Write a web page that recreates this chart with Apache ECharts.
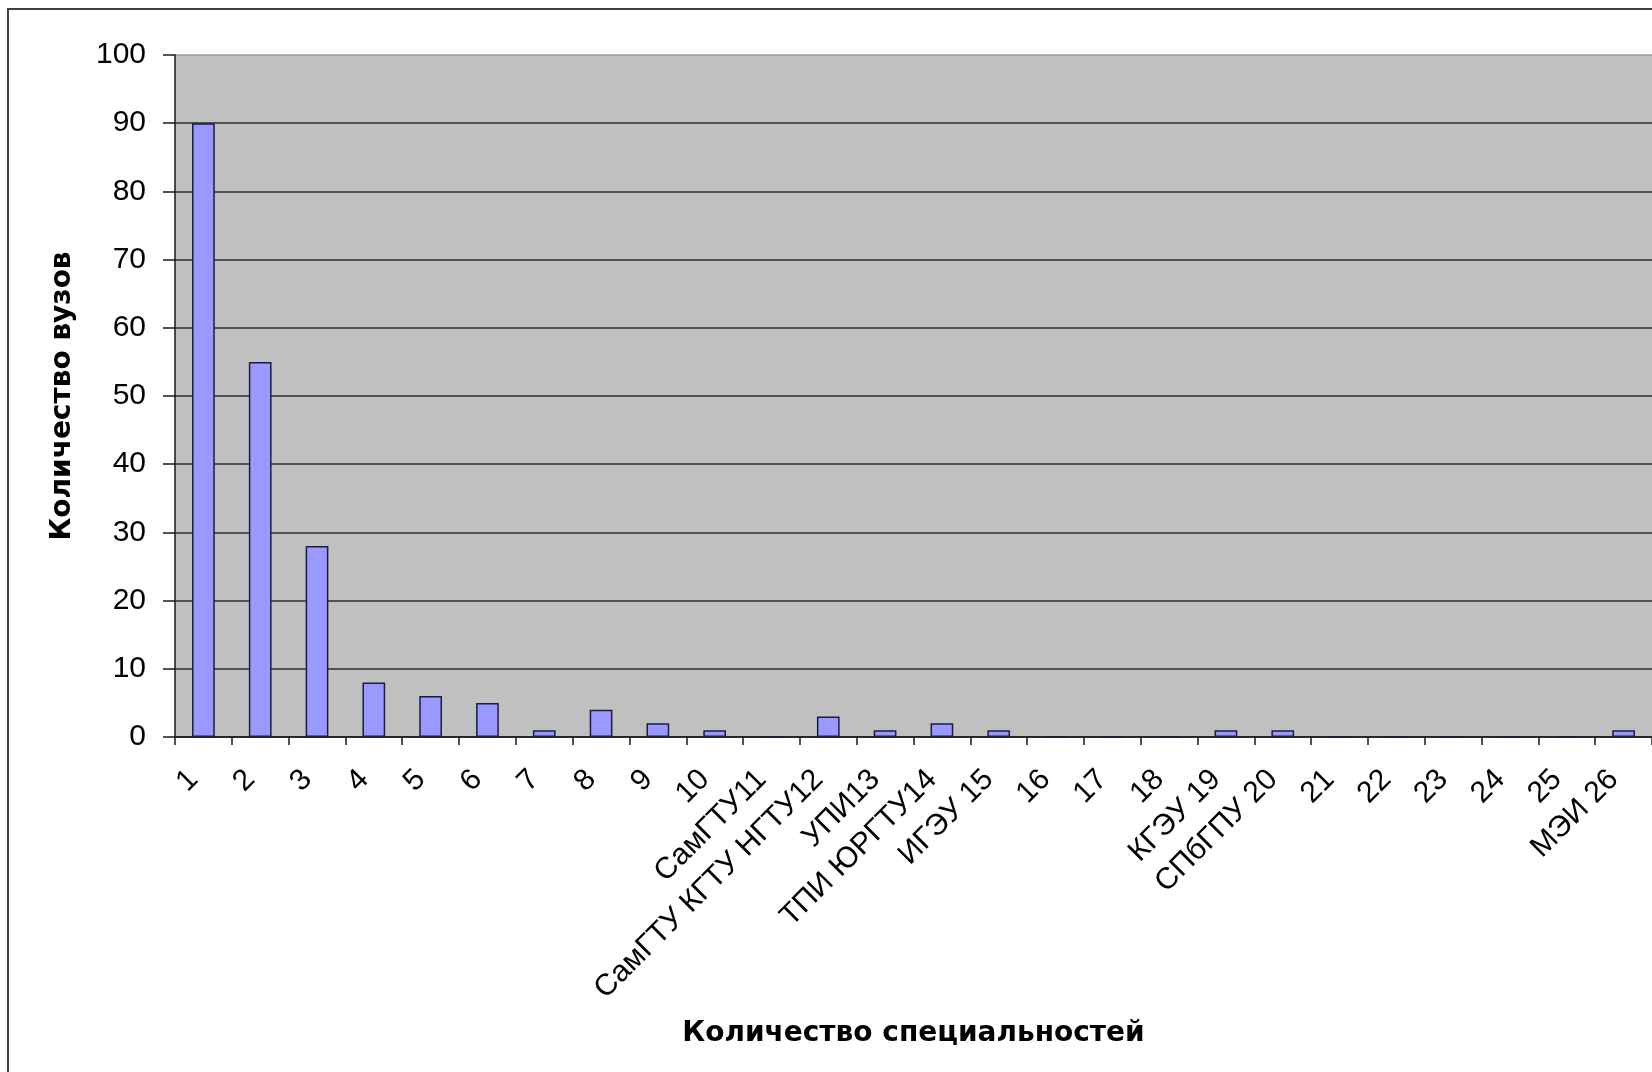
<!DOCTYPE html>
<html>
<head>
<meta charset="utf-8">
<script src="https://cdn.jsdelivr.net/npm/echarts@6/dist/echarts.min.js"></script>
<style>
  html, body { margin: 0; padding: 0; background: #ffffff; }
  #chart { width: 1652px; height: 1072px; }
</style>
</head>
<body>
<div id="chart"></div>
<script>
// Number of specialities (categories) and the universities offering them
const categories = [
  '1', '2', '3', '4', '5', '6', '7', '8', '9', '10',
  'СамГТУ11', 'СамГТУ КГТУ НГТУ12', 'УПИ13', 'ТПИ ЮРГТУ14', 'ИГЭУ 15',
  '16', '17', '18', 'КГЭУ 19', 'СПбГПУ 20',
  '21', '22', '23', '24', '25', 'МЭИ 26'
];
// Number of universities for each category
const universityCounts = [
  90, 55, 28, 8, 6, 5, 1, 4, 2, 1,
  0, 3, 1, 2, 1,
  0, 0, 0, 1, 1,
  0, 0, 0, 0, 0, 1
];
const yTicks = { min: 0, max: 100, interval: 10 };
const xTitle = 'Количество специальностей';
const yTitle = 'Количество вузов';

const FONT = '"Liberation Sans", Arial, sans-serif';
const TITLE_FONT = '"DejaVu Sans", "Liberation Sans", Arial, sans-serif';
const chart = echarts.init(document.getElementById('chart'), null, { renderer: 'canvas' });

chart.setOption({
  animation: false,
  backgroundColor: '#ffffff',
  graphic: [{
    type: 'rect',
    z: -10,
    silent: true,
    shape: { x: 8, y: 9, width: 1700, height: 1100 },
    style: { fill: 'none', stroke: '#404040', lineWidth: 2 }
  }],
  grid: {
    left: 175, top: 55, right: 0, bottom: 335,
    show: true, backgroundColor: '#c0c0c0', borderWidth: 0,
    containLabel: false
  },
  xAxis: {
    type: 'category',
    data: categories,
    boundaryGap: true,
    name: xTitle,
    nameLocation: 'middle',
    nameGap: 283,
    nameTextStyle: { fontFamily: TITLE_FONT, fontSize: 28, fontWeight: 'bold', color: '#000' },
    axisLine: { lineStyle: { color: '#1a1a1a', width: 1.5 } },
    axisTick: { show: true, alignWithLabel: false, length: 8, lineStyle: { color: '#1a1a1a', width: 1.5 } },
    axisLabel: {
      interval: 0, rotate: 45, hideOverlap: false,
      margin: 28, padding: [0, 14, 0, 0],
      fontFamily: FONT, fontSize: 30, color: '#000'
    },
    splitLine: { show: false }
  },
  yAxis: {
    type: 'value',
    min: yTicks.min, max: yTicks.max, interval: yTicks.interval,
    name: yTitle,
    nameLocation: 'middle',
    nameRotate: 90,
    nameGap: 98,
    nameTextStyle: { fontFamily: TITLE_FONT, fontSize: 28, fontWeight: 'bold', color: '#000' },
    axisLine: { show: true, lineStyle: { color: '#1a1a1a', width: 1.5 } },
    axisTick: { show: true, inside: false, length: 12, lineStyle: { color: '#1a1a1a', width: 1.5 } },
    axisLabel: { margin: 29, fontFamily: FONT, fontSize: 30, color: '#000' },
    splitLine: {
      show: true,
      lineStyle: {
        color: ['#2e2e2e', '#2e2e2e', '#2e2e2e', '#2e2e2e', '#2e2e2e', '#2e2e2e', '#2e2e2e', '#2e2e2e', '#2e2e2e', '#2e2e2e', '#9a9a9a'],
        width: 1.6
      }
    }
  },
  series: [{
    type: 'bar',
    data: universityCounts,
    barWidth: '40%',
    itemStyle: { color: '#9999ff', borderColor: '#1c1c40', borderWidth: 1.5 }
  }]
});
</script>
</body>
</html>
